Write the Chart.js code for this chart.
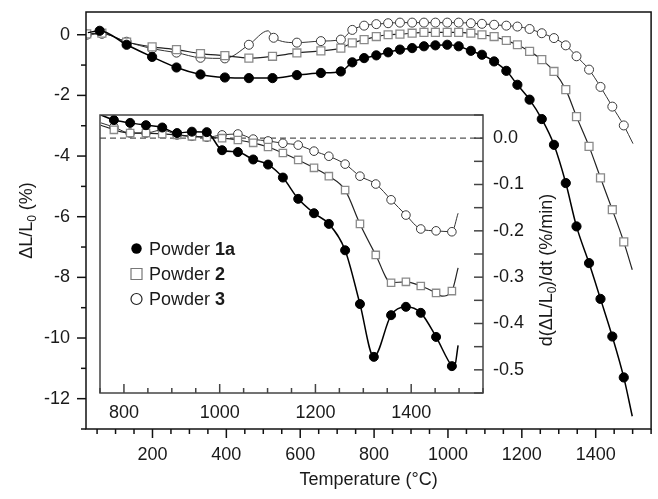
<!DOCTYPE html>
<html>
<head>
<meta charset="UTF-8">
<title>Dilatometry</title>
<script src="https://cdn.jsdelivr.net/npm/chart.js@4.4.1/dist/chart.umd.min.js"></script>
<style>
  body { margin: 0; background: #fff; }
  #wrap { position: relative; width: 658px; height: 499px; }
  #wrap canvas { position: absolute; left: 0; top: 0; }
</style>
</head>
<body>
<div id="wrap">
  <canvas id="main" width="658" height="499"></canvas>
  <canvas id="inset" width="658" height="499"></canvas>
</div>

<script>
  // main plot: shrinkage dL/L0 (%) against temperature (C)
  var tempP1a = [25, 57, 130, 199, 265, 330, 396, 461, 525, 591, 656, 710, 741, 773, 806, 838, 870, 903, 935, 966,
    998, 1029, 1062, 1092, 1125, 1158, 1188, 1221, 1254, 1287, 1319, 1348, 1382, 1413, 1445, 1476, 1499];
  var dlP1a = [0.07, 0.13, -0.33, -0.73, -1.08, -1.31, -1.41, -1.43, -1.43, -1.33, -1.26, -1.21, -0.91, -0.77, -0.68, -0.58, -0.49, -0.44, -0.38, -0.35,
    -0.33, -0.38, -0.53, -0.66, -0.88, -1.19, -1.65, -2.14, -2.78, -3.63, -4.89, -6.32, -7.53, -8.71, -9.95, -11.30, -12.58];
  var plainP1a = [0, 36];

  var tempP2 = [22, 63, 130, 199, 265, 330, 396, 461, 525, 591, 656, 710, 741, 773, 806, 838, 870, 903, 935, 966,
    998, 1029, 1062, 1092, 1125, 1158, 1188, 1221, 1254, 1287, 1319, 1348, 1382, 1413, 1445, 1476, 1499];
  var dlP2 = [0.03, 0.05, -0.24, -0.40, -0.49, -0.62, -0.69, -0.77, -0.71, -0.60, -0.53, -0.44, -0.27, -0.16, -0.06, 0.0, 0.02, 0.05, 0.08, 0.08,
    0.08, 0.08, 0.05, 0.0, -0.06, -0.19, -0.33, -0.55, -0.82, -1.21, -1.81, -2.70, -3.68, -4.72, -5.77, -6.83, -7.75];
  var plainP2 = [36];

  var tempP3 = [22, 63, 130, 199, 265, 330, 396, 461, 513, 528, 591, 656, 710, 741, 773, 806, 838, 870, 903, 935,
    966, 998, 1029, 1062, 1092, 1125, 1158, 1188, 1221, 1254, 1287, 1319, 1348, 1382, 1413, 1445, 1476, 1501];
  var dlP3 = [0.0, 0.03, -0.23, -0.46, -0.59, -0.76, -0.78, -0.33, 0.13, -0.10, -0.26, -0.21, -0.16, 0.16, 0.30, 0.35, 0.38, 0.40, 0.40, 0.40,
    0.40, 0.40, 0.40, 0.38, 0.36, 0.33, 0.30, 0.27, 0.19, 0.05, -0.11, -0.35, -0.71, -1.15, -1.72, -2.37, -2.99, -3.59];
  var plainP3 = [8, 37];

  // inset: shrinkage rate d(dL/L0)/dt (%/min)
  var rateT1a = [752, 779, 813, 846, 880, 911, 942, 973, 1005, 1038, 1070, 1101, 1132, 1164, 1197, 1228, 1262, 1293, 1322, 1358,
    1389, 1420, 1452, 1485, 1490, 1498];
  var rate1a = [0.050, 0.039, 0.033, 0.028, 0.023, 0.011, 0.014, 0.013, -0.026, -0.030, -0.046, -0.057, -0.085, -0.131, -0.162, -0.185, -0.242, -0.358, -0.472, -0.382,
    -0.364, -0.377, -0.429, -0.492, -0.495, -0.447];
  var rPlain1a = [0, 24, 25];

  var rateT2 = [752, 779, 813, 846, 880, 911, 942, 973, 1005, 1038, 1070, 1101, 1132, 1164, 1197, 1228, 1262, 1293, 1326, 1358,
    1389, 1420, 1452, 1464, 1485, 1498];
  var rate2 = [0.028, 0.018, 0.011, 0.011, 0.009, 0.007, 0.004, 0.002, 0.000, -0.004, -0.010, -0.019, -0.032, -0.047, -0.064, -0.082, -0.112, -0.185, -0.252, -0.312,
    -0.310, -0.319, -0.334, -0.341, -0.330, -0.280];
  var rPlain2 = [0, 23, 25];

  var rateT3 = [752, 779, 813, 846, 880, 911, 942, 973, 1005, 1038, 1070, 1101, 1132, 1164, 1197, 1228, 1262, 1293, 1326, 1358,
    1389, 1420, 1452, 1485, 1498];
  var rate3 = [0.033, 0.024, 0.011, 0.011, 0.018, 0.007, 0.004, 0.002, 0.007, 0.009, -0.002, -0.006, -0.011, -0.015, -0.028, -0.039, -0.056, -0.082, -0.099, -0.133,
    -0.166, -0.196, -0.200, -0.202, -0.162];
  var rPlain3 = [0, 24];

  var mainXTicks = [200, 400, 600, 800, 1000, 1200, 1400];
  var mainYTicks = [0, -2, -4, -6, -8, -10, -12];
  var insetXTicks = [800, 1000, 1200, 1400];
  var insetYTicks = [0, -0.1, -0.2, -0.3, -0.4, -0.5];
  var seriesName = 'Powder ';
  var seriesTags = ['1a', '2', '3'];

  var FAM = "'Liberation Sans', Arial, sans-serif";
  var TXT = '#1a1a1a';
  Chart.defaults.font.family = FAM;
  Chart.defaults.font.size = 18;
  Chart.defaults.color = TXT;

  var filled = { borderColor: '#000', borderWidth: 1.5, pointStyle: 'circle', pointBackgroundColor: '#000', pointBorderColor: '#000', pointBorderWidth: 1 };
  var square = { borderColor: '#222', borderWidth: 1.2, pointStyle: 'rect', pointBackgroundColor: '#fff', pointBorderColor: '#8a8a8a', pointBorderWidth: 1.3 };
  var ring = { borderColor: '#333', borderWidth: 1, pointStyle: 'circle', pointBackgroundColor: '#fff', pointBorderColor: '#3a3a3a', pointBorderWidth: 1 };

  function pts(xs, ys) {
    return xs.map(function (x, i) { return { x: x, y: ys[i] }; });
  }

  function series(style, xs, ys, plain, r) {
    return Object.assign({}, style, {
      data: pts(xs, ys),
      pointRadius: function (ctx) { return plain.indexOf(ctx.dataIndex) >= 0 ? 0 : r; },
      pointHoverRadius: 0,
      cubicInterpolationMode: 'monotone',
      fill: false
    });
  }

  function fixTicks(list) {
    return function (s) { s.ticks = list.map(function (v) { return { value: v }; }); };
  }

  // fixed axis box size, no extra padding for edge labels
  function fitW(w) {
    return function (s) { s.width = w; s.paddingTop = 0; s.paddingBottom = 0; };
  }
  function fitH(h) {
    return function (s) { s.height = h; s.paddingLeft = 0; s.paddingRight = 0; };
  }

  // rotated axis title with a subscript part
  function rotatedTitle(c, parts, x, y) {
    var big = '18px ' + FAM, small = '12px ' + FAM;
    c.save();
    c.translate(x, y);
    c.rotate(-Math.PI / 2);
    c.fillStyle = TXT;
    c.textBaseline = 'alphabetic';
    var w = 0;
    parts.forEach(function (p) { c.font = p[1] ? small : big; w += c.measureText(p[0]).width; });
    var cx = -w / 2;
    parts.forEach(function (p) {
      c.font = p[1] ? small : big;
      c.fillText(p[0], cx, p[1] ? 4 : 0);
      cx += c.measureText(p[0]).width;
    });
    c.restore();
  }

  // frame round the plot area plus major / minor tick marks
  function frameTicks(opt) {
    return {
      id: 'frameTicks',
      beforeDraw: function (chart) {
        if (!opt.fill) return;
        var a = chart.chartArea, c = chart.ctx;
        c.save();
        c.fillStyle = opt.fill;
        c.fillRect(a.left, a.top, a.right - a.left, a.bottom - a.top);
        c.restore();
      },
      afterDraw: function (chart) {
        var a = chart.chartArea, c = chart.ctx;
        c.save();
        c.strokeStyle = opt.color;
        c.lineWidth = opt.width;
        opt.axes.forEach(function (ax) {
          var s = chart.scales[ax.id];
          var n0 = Math.ceil(s.min / ax.minor - 1e-6), n1 = Math.floor(s.max / ax.minor + 1e-6);
          for (var n = n0; n <= n1; n++) {
            var v = n * ax.minor;
            var r = v / ax.major;
            var len = Math.abs(r - Math.round(r)) < 1e-6 ? ax.majorLen : ax.minorLen;
            var p = s.getPixelForValue(v);
            c.beginPath();
            if (s.isHorizontal()) {
              c.moveTo(p, a.bottom); c.lineTo(p, a.bottom + ax.dir * len);
            } else {
              var x0 = s.position === 'right' ? a.right : a.left;
              c.moveTo(x0, p); c.lineTo(x0 + ax.dir * len, p);
            }
            c.stroke();
          }
        });
        c.strokeRect(a.left, a.top, a.right - a.left, a.bottom - a.top);
        c.restore();
        if (opt.extra) opt.extra(chart);
      }
    };
  }

  // ---------------- main chart ----------------
  new Chart(document.getElementById('main'), {
    type: 'line',
    data: {
      datasets: [
        series(filled, tempP1a, dlP1a, plainP1a, 4.6),
        series(square, tempP2, dlP2, plainP2, 5.6),
        series(ring, tempP3, dlP3, plainP3, 4.5)
      ]
    },
    options: {
      responsive: false,
      animation: false,
      layout: { padding: { left: 0, top: 12, right: 5, bottom: 0 } },
      plugins: { legend: { display: false }, tooltip: { enabled: false } },
      scales: {
        x: {
          type: 'linear', min: 20, max: 1550,
          afterBuildTicks: fixTicks(mainXTicks),
          afterFit: fitH(70),
          grid: { display: false, drawTicks: false },
          border: { display: false },
          ticks: { padding: 15, maxRotation: 0, autoSkip: false, callback: function (v) { return String(v); } },
          title: { display: true, text: 'Temperature (°C)', padding: { top: 0, bottom: 8 } }
        },
        y: {
          type: 'linear', min: -13, max: 0.75,
          afterBuildTicks: fixTicks(mainYTicks),
          afterFit: fitW(86),
          grid: { display: false, drawTicks: false },
          border: { display: false },
          ticks: { padding: 16, autoSkip: false, callback: function (v) { return String(v); } }
        }
      }
    },
    plugins: [frameTicks({
      color: '#111', width: 1.5,
      axes: [
        { id: 'x', major: 200, minor: 50, majorLen: 9, minorLen: 5, dir: 1 },
        { id: 'y', major: 2, minor: 1, majorLen: 9, minorLen: 5, dir: -1 }
      ],
      extra: function (chart) {
        var a = chart.chartArea;
        rotatedTitle(chart.ctx, [['ΔL/L', 0], ['0', 1], [' (%)', 0]], 31.5, (a.top + a.bottom) / 2);
      }
    })]
  });

  // ---------------- inset chart ----------------
  function drawLegend(chart) {
    var c = chart.ctx, a = chart.chartArea;
    var mx = a.left + 36.5, tx = a.left + 49;
    var base = [a.top + 139.5, a.top + 165, a.top + 190];
    c.save();
    base.forEach(function (by, i) {
      var my = by - 6;
      c.lineWidth = 1.2;
      c.beginPath();
      if (i === 0) {
        c.fillStyle = '#000';
        c.arc(mx, my, 5.2, 0, Math.PI * 2); c.fill();
      } else if (i === 1) {
        c.fillStyle = '#fff'; c.strokeStyle = '#777';
        c.rect(mx - 5.5, my - 5.5, 11, 11); c.fill(); c.stroke();
      } else {
        c.fillStyle = '#fff'; c.strokeStyle = '#222';
        c.arc(mx, my, 5.5, 0, Math.PI * 2); c.fill(); c.stroke();
      }
      c.fillStyle = TXT;
      c.textBaseline = 'alphabetic';
      c.font = '18px ' + FAM;
      c.fillText(seriesName, tx, by);
      var w = c.measureText(seriesName).width;
      c.font = 'bold 18px ' + FAM;
      c.fillText(seriesTags[i], tx + w, by);
    });
    c.restore();
  }

  new Chart(document.getElementById('inset'), {
    type: 'line',
    data: {
      datasets: [
        series(filled, rateT1a, rate1a, rPlain1a, 4.5),
        series(square, rateT2, rate2, rPlain2, 5.2),
        series(ring, rateT3, rate3, rPlain3, 4.3),
        {
          data: [{ x: 750, y: 0 }, { x: 1550, y: 0 }],
          borderColor: '#555', borderWidth: 1.2, borderDash: [6, 4],
          pointRadius: 0, pointHoverRadius: 0, fill: false
        }
      ]
    },
    options: {
      responsive: false,
      animation: false,
      layout: { padding: { left: 100, top: 115, right: 95, bottom: 76 } },
      plugins: { legend: { display: false }, tooltip: { enabled: false } },
      scales: {
        x: {
          type: 'linear', min: 750, max: 1550,
          afterBuildTicks: fixTicks(insetXTicks),
          afterFit: fitH(30),
          grid: { display: false, drawTicks: false },
          border: { display: false },
          ticks: { padding: 9, maxRotation: 0, autoSkip: false, callback: function (v) { return String(v); } }
        },
        y: {
          type: 'linear', position: 'right', min: -0.55, max: 0.05,
          afterBuildTicks: fixTicks(insetYTicks),
          afterFit: fitW(80),
          grid: { display: false, drawTicks: false },
          border: { display: false },
          ticks: { padding: 10, autoSkip: false, callback: function (v) { return v.toFixed(1); } }
        }
      }
    },
    plugins: [frameTicks({
      color: '#444', width: 1.5, fill: '#fff',
      axes: [
        { id: 'x', major: 200, minor: 50, majorLen: 9, minorLen: 5, dir: -1 },
        { id: 'y', major: 0.1, minor: 0.05, majorLen: 9, minorLen: 9, dir: -1 }
      ],
      extra: function (chart) {
        var a = chart.chartArea;
        rotatedTitle(chart.ctx, [['d(ΔL/L', 0], ['0', 1], [')/dt (%/min)', 0]], a.right + 69, a.top + 155);
        drawLegend(chart);
      }
    })]
  });
</script>
</body>
</html>
